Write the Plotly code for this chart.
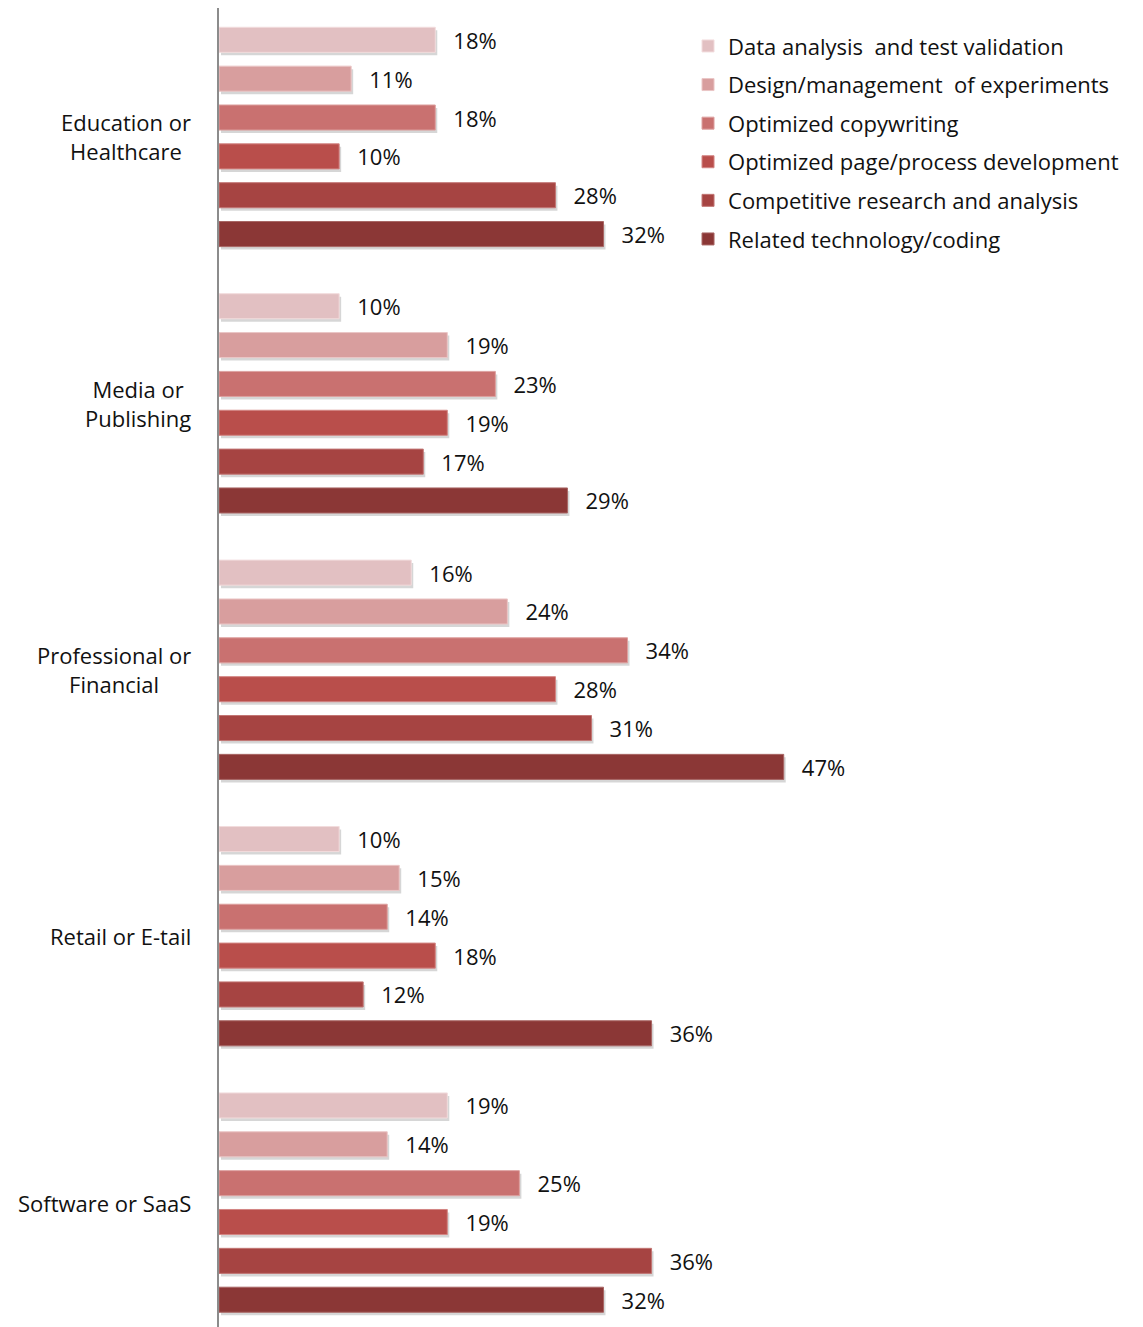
import plotly.graph_objects as go

categories = ["Education or<br>Healthcare", "Media or<br>Publishing", "Professional or<br>Financial",
              "Retail or E-tail", "Software or SaaS"]
series_names = ["Data analysis  and test validation", "Design/management  of experiments",
                "Optimized copywriting", "Optimized page/process development",
                "Competitive research and analysis", "Related technology/coding"]
data_analysis = [18, 10, 16, 10, 19]
design_mgmt = [11, 19, 24, 15, 14]
copywriting = [18, 23, 34, 14, 25]
page_dev = [10, 19, 28, 18, 19]
competitive = [28, 17, 31, 12, 36]
technology = [32, 29, 47, 36, 32]
series_values = [data_analysis, design_mgmt, copywriting, page_dev, competitive, technology]
colors = ["#E2C0C2", "#D89E9E", "#C97170", "#B94E4B", "#A64442", "#8B3736"]
edge = ["#F2DCDD", "#EBC6C6", "#DDA09F", "#D38583", "#C27674", "#A86664"]

FONT = "Open Sans"
FS = 22
XR = [0, 76.9]
YR = [4.467, -0.484]
PX_X = (XR[1] - XR[0]) / 924.0
PX_Y = (YR[0] - YR[1]) / 1319.0

fig = go.Figure()
# soft shadows (base subplot, drawn underneath)
for i, vals in enumerate(series_values):
    fig.add_trace(go.Bar(
        y=categories, x=vals, orientation="h", showlegend=False, hoverinfo="skip",
        marker=dict(color="rgba(0,0,0,0.16)", line=dict(width=0)),
        xaxis="x", yaxis="y",
    ))
# main bars (overlay subplot)
for i, (name, vals) in enumerate(zip(series_names, series_values)):
    fig.add_trace(go.Bar(
        y=categories, x=vals, name=name, orientation="h",
        marker=dict(color=colors[i], line=dict(color=edge[i], width=1)),
        text=[f"\u00a0\u00a0\u2009{v}%" for v in vals],
        textposition="outside", constraintext="none", cliponaxis=False,
        textfont=dict(family=FONT, size=FS, color="#111111"),
        legendgroup=f"g{i}", xaxis="x2", yaxis="y2",
    ))

for c in categories:
    fig.add_annotation(x=0, xref="paper", y=c, yref="y2", text=c, showarrow=False,
                       xanchor="right", align="center", xshift=-26,
                       font=dict(family=FONT, size=FS, color="#111111"))

fig.update_layout(
    width=1135, height=1319,
    margin=dict(l=211, r=0, t=0, b=0),
    paper_bgcolor="white", plot_bgcolor="white",
    barmode="group", bargap=0.125, bargroupgap=0.355,
    font=dict(family=FONT, size=FS, color="#111111"),
    legend=dict(x=0.5076, y=0.987, xanchor="left", yanchor="top",
                font=dict(family=FONT, size=FS, color="#111111"),
                tracegroupgap=7, traceorder="grouped", bgcolor="rgba(0,0,0,0)"),
    showlegend=True,
    xaxis=dict(range=[XR[0] - 2 * PX_X, XR[1] - 2 * PX_X], showgrid=False, zeroline=False,
               showticklabels=False, showline=False, ticks=""),
    yaxis=dict(type="category", categoryorder="array", categoryarray=categories,
               range=[YR[0] - 3 * PX_Y, YR[1] - 3 * PX_Y], showticklabels=False, showgrid=False,
               zeroline=False, showline=False, ticks=""),
    xaxis2=dict(range=XR, overlaying="x", showgrid=False, zeroline=False,
                showticklabels=False, showline=False, ticks=""),
    yaxis2=dict(type="category", categoryorder="array", categoryarray=categories,
                range=YR, overlaying="y", showticklabels=False, showgrid=False,
                zeroline=False, showline=True, linecolor="#8C8C8C", linewidth=2, ticks="",
                side="left"),
)
fig.write_html("out.html")
